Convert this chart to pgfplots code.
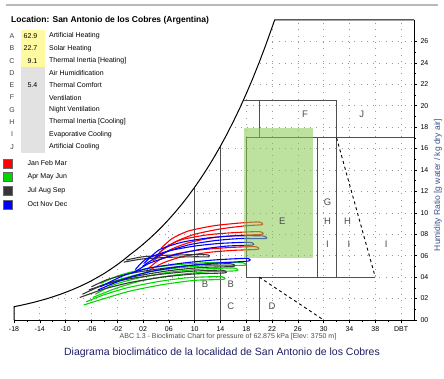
\documentclass[border=0pt]{standalone}
\usepackage{pgfplots}
\pgfplotsset{compat=1.18}
\usepackage{fontspec}
\setmainfont{Liberation Sans}
\definecolor{zonegray}{RGB}{80,80,80}
\definecolor{boxyellow}{RGB}{255,250,160}
\definecolor{boxgray}{RGB}{226,226,226}
\definecolor{compgreen}{RGB}{135,200,80}
\definecolor{titlenavy}{RGB}{30,30,100}
\definecolor{ylab}{RGB}{60,80,140}
\definecolor{mgreen}{RGB}{0,215,0}
\definecolor{mdark}{RGB}{55,55,55}
\begin{document}
\begin{tikzpicture}
\path[use as bounding box] (0pt,0pt) rectangle (444pt,378pt);
\node[font=\fontsize{7}{8}\selectfont, text=black!70] at (228pt,41pt) {ABC 1.3 - Bioclimatic Chart for pressure of 62.875 kPa [Elev: 3750 m]};
\node[font=\fontsize{10.5}{12}\selectfont, text=titlenavy] at (222pt,25pt) {Diagrama bioclimático de la localidad de San Antonio de los Cobres};
\begin{axis}[
  at={(14pt,58pt)}, anchor=south west, scale only axis, width=400pt, height=300pt,
  xmin=-18, xmax=44, ymin=0, ymax=28, clip=false,
  axis x line*=bottom, axis y line*=right,
  axis line style={line width=1pt, black},
  xtick={-18,-14,...,42},
  xticklabels={-18,-14,-10,-06,-02,02,06,10,14,18,22,26,30,34,38,DBT},
  ytick={0,2,...,26},
  yticklabels={00,02,04,06,08,10,12,14,16,18,20,22,24,26},
  minor x tick num=1, minor y tick num=1,
  tick align=outside, major tick length=3pt, minor tick length=2pt,
  tick style={black, line width=0.6pt},
  ticklabel style={font=\fontsize{7}{8}\selectfont},
  grid=major,
  major grid style={gray!80, line width=0.7pt, dash pattern=on 0.8pt off 5.5pt},
  legend style={at={(axis description cs:-0.0275,0.54)}, anchor=north west, draw=none, fill=none, inner sep=0pt, font=\fontsize{7}{8}\selectfont, row sep=3.2pt, cells={anchor=west}},
  legend image code/.code={\draw[#1, line width=0.5pt] (0pt,-4.5pt) rectangle (9pt,4.5pt); \path (22pt,0pt);},
]
% white area above the saturation curve
\addplot[draw=none, fill=white, forget plot] coordinates {
(-18,1.241)(-17,1.363)(-16,1.497)(-15,1.639)(-14,1.801)(-13,1.968)(-12,2.160)(-11,2.360)(-10,2.583)(-9,2.821)(-8,3.080)(-7,3.358)(-6,3.663)(-5,4.000)(-4,4.351)(-3,4.745)(-2,5.164)(-1,5.616)(0,6.106)(1,6.569)(2,7.064)(3,7.591)(4,8.153)(5,8.754)(6,9.393)(7,10.074)(8,10.798)(9,11.569)(10,12.391)(11,13.265)(12,14.193)(13,15.180)(14,16.230)(15,17.342)(16,18.528)(17,19.781)(18,21.119)(19,22.530)(20,24.035)(21,25.627)(22,27.317)(22.4,28.0)(22.4,28.6)(-18.5,28.6)(-18.5,1.241)} -- cycle;
% zone lines
\addplot[zonegray, line width=0.9pt, forget plot] coordinates {(10,0)(10,12.391)};
\addplot[zonegray, line width=0.9pt, forget plot] coordinates {(14,0)(14,16.230)};
\addplot[zonegray, line width=0.9pt, forget plot] coordinates {(17.52,20.5)(32,20.5)};
\addplot[zonegray, line width=0.9pt, forget plot] coordinates {(20,17)(20,20.5)};
\addplot[zonegray, line width=0.9pt, forget plot] coordinates {(32,4)(32,20.5)};
\addplot[zonegray, line width=0.9pt, forget plot] coordinates {(18,17)(44,17)};
\addplot[zonegray, line width=0.9pt, forget plot] coordinates {(18,17)(18,4)(38,4)};
\addplot[zonegray, line width=0.9pt, forget plot] coordinates {(29,4)(29,17)};
\addplot[zonegray, line width=0.9pt, forget plot] coordinates {(20,0)(20,4)};
\addplot[black, line width=0.9pt, dashed, forget plot] coordinates {(20,4)(30,0)};
\addplot[black, line width=0.9pt, dashed, forget plot] coordinates {(32,17)(38,4)};
% chart outline
\addplot[black, line width=1pt, forget plot] coordinates {(-18,0)(-18,1.241)(-17,1.363)(-16,1.497)(-15,1.639)(-14,1.801)(-13,1.968)(-12,2.160)(-11,2.360)(-10,2.583)(-9,2.821)(-8,3.080)(-7,3.358)(-6,3.663)(-5,4.000)(-4,4.351)(-3,4.745)(-2,5.164)(-1,5.616)(0,6.106)(1,6.569)(2,7.064)(3,7.591)(4,8.153)(5,8.754)(6,9.393)(7,10.074)(8,10.798)(9,11.569)(10,12.391)(11,13.265)(12,14.193)(13,15.180)(14,16.230)(15,17.342)(16,18.528)(17,19.781)(18,21.119)(19,22.530)(20,24.035)(21,25.627)(22,27.317)(22.4,28.0)(44,28)};
% monthly lines
\pgfplotsset{month/.style={line width=1.1pt, forget plot, smooth, tension=0.4}}
\addplot[month, red] coordinates {(4.5,6.3)(7,7.3)(10,8.0)(14,8.5)(18,8.8)(20.5,8.9)(20,9.15)(17,9.05)(13,8.8)(9,8.3)(6.5,7.6)(4.8,6.7)};
\addplot[month, red] coordinates {(3.5,5.5)(6,6.5)(9,7.2)(13,7.7)(17,7.9)(20.5,8.0)(20,8.25)(16,8.15)(12,7.95)(8,7.5)(5.5,6.8)(3.8,5.8)};
\addplot[month, red] coordinates {(2.3,4.4)(5,5.3)(8,5.9)(12,6.3)(16,6.5)(19.8,6.6)(19.3,6.85)(15,6.75)(11,6.55)(7,6.15)(4.5,5.6)(2.6,4.7)};
\addplot[month, mgreen] coordinates {(-5,3.1)(-1,3.9)(3,4.5)(8,4.9)(13,5.1)(17.7,5.1)(17.3,5.35)(12,5.35)(7,5.15)(2.5,4.8)(-1.5,4.2)(-4.6,3.4)};
\addplot[month, mgreen] coordinates {(-5.8,2.1)(-2,3.0)(2,3.7)(7,4.2)(12,4.5)(16.5,4.6)(16,4.85)(11,4.75)(6,4.45)(1.5,3.95)(-2.5,3.3)(-5.4,2.4)};
\addplot[month, mgreen] coordinates {(-7.2,1.4)(-4,2.0)(0,2.7)(5,3.3)(10,3.7)(14.5,3.8)(14,4.05)(9,3.95)(4.5,3.6)(-0.5,3.0)(-4.3,2.3)(-6.8,1.7)};
\addplot[month, mdark] coordinates {(-7.8,2.1)(-4,2.9)(0,3.5)(5,4.0)(10,4.3)(14.7,4.4)(14.2,4.65)(9.5,4.55)(4.5,4.25)(-0.5,3.8)(-4.4,3.2)(-7.4,2.4)};
\addplot[month, mdark] coordinates {(-6.4,2.8)(-3,3.5)(1,4.1)(6,4.6)(11,4.9)(16,5.0)(15.5,5.25)(10.5,5.15)(5.5,4.85)(0.5,4.4)(-3.4,3.8)(-6,3.1)};
\addplot[month, mdark] coordinates {(-1,5.4)(2,5.7)(6,5.85)(10,5.9)(12.2,5.9)(11.7,6.1)(6,6.05)(2,5.9)(-0.6,5.6)};
\addplot[month, blue] coordinates {(-5,2.8)(-1,3.8)(3,4.5)(8,5.0)(13,5.3)(18.3,5.5)(18,5.75)(13,5.6)(8,5.3)(3,4.85)(-1,4.15)(-4.6,3.1)};
\addplot[month, blue] coordinates {(0.5,4.4)(3,5.3)(7,6.1)(11,6.6)(15,6.9)(19,7.0)(18.5,7.25)(14,7.15)(10,6.9)(6,6.45)(2.5,5.7)(0.8,4.7)};
\addplot[month, blue] coordinates {(1.9,5.0)(5,6.2)(9,7.0)(13,7.4)(17,7.6)(21,7.6)(20.5,7.85)(16,7.85)(12,7.65)(8,7.25)(4.5,6.55)(2.2,5.3)};
% comfort zone shading
\addplot[draw=none, fill=compgreen, fill opacity=0.55, forget plot] coordinates {(17.7,5.8)(28.4,5.8)(28.4,17.9)(17.7,17.9)} -- cycle;
% zone letters
\begin{scope}[font=\fontsize{9.5}{10}\selectfont, text=black!70]
\node at (axis cs:23.6,9.2) {E};
\node at (axis cs:27.1,19.2) {F};
\node at (axis cs:35.9,19.2) {J};
\node at (axis cs:30.6,11.0) {G};
\node at (axis cs:30.6,9.2) {H};
\node at (axis cs:30.6,7.1) {I};
\node at (axis cs:33.7,9.2) {H};
\node at (axis cs:33.9,7.1) {I};
\node at (axis cs:39.7,7.1) {I};
\node at (axis cs:11.6,3.3) {B};
\node at (axis cs:15.6,3.3) {B};
\node at (axis cs:15.6,1.3) {C};
\node at (axis cs:22.0,1.3) {D};
\end{scope}
\node[rotate=90, font=\fontsize{8.5}{9}\selectfont, text=ylab] at (axis description cs:1.06,0.45) {Humidity Ratio [g water / kg dry air]};
% season legend
\addlegendimage{fill=red, draw=black!60}
\addlegendentry{Jan Feb Mar}
\addlegendimage{fill=mgreen, draw=black!60}
\addlegendentry{Apr May Jun}
\addlegendimage{fill=mdark, draw=black!60}
\addlegendentry{Jul Aug Sep}
\addlegendimage{fill=blue, draw=black!60}
\addlegendentry{Oct Nov Dec}
\end{axis}
% header and index table (drawn on top of the axis)
\draw[gray!55, line width=1.5pt] (6pt,373pt) -- (438pt,373pt);
\node[anchor=west, font=\bfseries\fontsize{8.5}{10}\selectfont, inner sep=0pt] at (11pt,358pt) {Location: San Antonio de los Cobres (Argentina)};
\fill[boxyellow] (21pt,348pt) rectangle (45pt,311pt);
\fill[boxgray] (21pt,311pt) rectangle (45pt,225pt);
\begin{scope}[font=\fontsize{7}{8}\selectfont, inner sep=0pt]
\foreach \L/\V/\T [count=\i from 0] in {A/62.9/Artificial Heating, B/22.7/Solar Heating, C/9.1/{Thermal Inertia [Heating]}, D//Air Humidification, E/5.4/Thermal Comfort, F//Ventilation, G//Night Ventilation, H//{Thermal Inertia [Cooling]}, I//Evaporative Cooling, J//Artificial Cooling}{
  \node[anchor=center, text=black!75] at (12pt,{342pt-12.3pt*\i}) {\L};
  \node[anchor=east] at (37.5pt,{342pt-12.3pt*\i}) {\V};
  \node[anchor=west] at (49pt,{342pt-12.3pt*\i}) {\T};
}
\end{scope}
\end{tikzpicture}
\end{document}
